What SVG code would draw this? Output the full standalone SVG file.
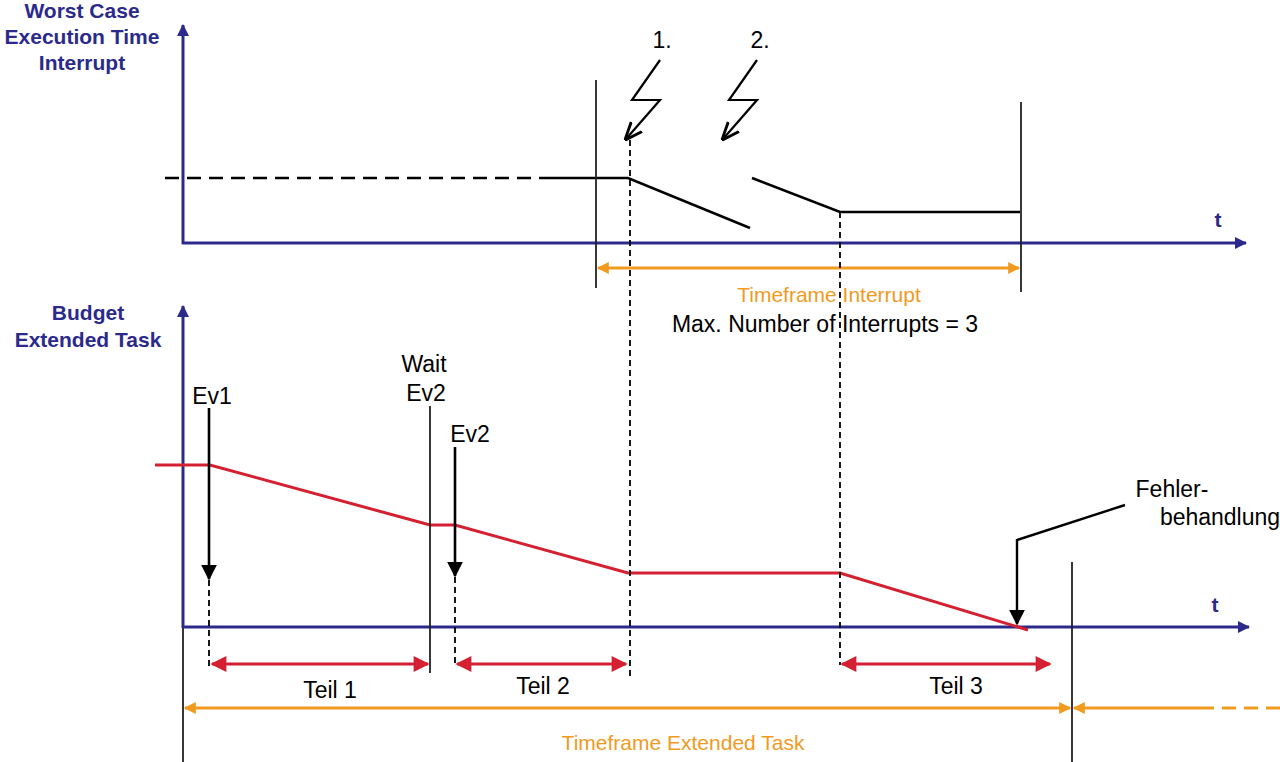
<svg xmlns="http://www.w3.org/2000/svg" width="1280" height="762" viewBox="0 0 1280 762">
<defs>
<marker id="an" markerWidth="12" markerHeight="12" refX="11" refY="6" orient="auto" markerUnits="userSpaceOnUse"><path d="M0,0 L12,6 L0,12 z" fill="#2b2a8c"/></marker>
<marker id="ab" viewBox="0 0 10 10" markerWidth="16" markerHeight="16" refX="9" refY="5" orient="auto" markerUnits="userSpaceOnUse"><path d="M0,0 L10,5 L0,10 z" fill="#000"/></marker>
<marker id="ao" viewBox="0 0 10 10" markerWidth="14" markerHeight="12" refX="9" refY="5" orient="auto-start-reverse" markerUnits="userSpaceOnUse"><path d="M0,0 L10,5 L0,10 z" fill="#f09a1e"/></marker>
<marker id="ar" viewBox="0 0 10 10" markerWidth="18" markerHeight="16" refX="9" refY="5" orient="auto-start-reverse" markerUnits="userSpaceOnUse"><path d="M0,0 L10,5 L0,10 z" fill="#d42030"/></marker>
<marker id="al" viewBox="0 0 10 10" markerWidth="18" markerHeight="18" refX="9" refY="5" orient="auto" markerUnits="userSpaceOnUse"><path d="M0,1 L10,5 L0,9" fill="none" stroke="#000" stroke-width="1.6"/></marker>
</defs>
<style>
.ax{stroke:#2b2a8c;stroke-width:3;fill:none}
.bl{stroke:#000;stroke-width:2.6;fill:none}
.th{stroke:#222;stroke-width:1.8;fill:none}
.da{stroke:#000;stroke-width:1.8;stroke-dasharray:6,4;fill:none}
.rd{stroke:#d42030;stroke-width:3;fill:none}
.or{stroke:#f09a1e;stroke-width:3;fill:none}
.lab{font-family:"Liberation Sans",Arial,sans-serif;font-weight:bold;font-size:21px;fill:#2b2a8c;text-anchor:middle}
.tx{font-family:"Liberation Sans",Arial,sans-serif;font-size:23px;fill:#000;text-anchor:middle}
.ot{font-family:"Liberation Sans",Arial,sans-serif;font-size:21px;fill:#f09a1e;text-anchor:middle}
</style>
<g id="axes-top">
<line class="ax" x1="183" y1="244" x2="183" y2="25" marker-end="url(#an)"/>
<line class="ax" x1="182" y1="243" x2="1246" y2="243" marker-end="url(#an)"/>
<text class="lab" x="82" y="18">Worst Case</text>
<text class="lab" x="82" y="44">Execution Time</text>
<text class="lab" x="82" y="70">Interrupt</text>
<text class="lab" x="1218" y="227">t</text>
</g>
<g id="wcet-curve">
<line class="bl" x1="165" y1="178" x2="545" y2="178" stroke-dasharray="14,8"/>
<polyline class="bl" points="545,178 628,178 750,228"/>
<polyline class="bl" points="752,178 840,212 1020,212"/>
</g>
<g id="interrupt-1">
<polyline points="660,60 632,100 660,100 626,139" fill="none" stroke="#000" stroke-width="2.2" marker-end="url(#al)"/>
<text class="tx" x="662" y="48">1.</text>
</g>
<g id="interrupt-2">
<polyline points="757,60 729,100 757,100 723,139" fill="none" stroke="#000" stroke-width="2.2" marker-end="url(#al)"/>
<text class="tx" x="760" y="48">2.</text>
</g>
<g id="timeframe-interrupt">
<line class="th" x1="596" y1="80" x2="596" y2="288"/>
<line class="th" x1="1021" y1="102" x2="1021" y2="292"/>
<line class="or" x1="598" y1="268" x2="1019" y2="268" marker-start="url(#ao)" marker-end="url(#ao)"/>
<text class="ot" x="829" y="302">Timeframe Interrupt</text>
<text class="tx" x="825" y="332" font-size="21">Max. Number of Interrupts = 3</text>
</g>
<g id="axes-bottom">
<line class="ax" x1="183" y1="628" x2="183" y2="306" marker-end="url(#an)"/>
<line class="ax" x1="182" y1="627" x2="1249" y2="627" marker-end="url(#an)"/>
<line class="th" x1="183" y1="628" x2="183" y2="762"/>
<text class="lab" x="88" y="320">Budget</text>
<text class="lab" x="88" y="347">Extended Task</text>
<text class="lab" x="1215" y="612">t</text>
</g>
<g id="budget-curve">
<polyline class="rd" points="155,465 210,465 430,525 455,525 628,573 840,573 1028,630"/>
</g>
<g id="ev1">
<text class="tx" x="212" y="404">Ev1</text>
<line class="bl" x1="209" y1="408" x2="209" y2="579" marker-end="url(#ab)"/>
<line class="da" x1="209" y1="580" x2="209" y2="668"/>
</g>
<g id="wait-ev2">
<text class="tx" x="424" y="372">Wait</text>
<text class="tx" x="426" y="401">Ev2</text>
<line class="th" x1="430" y1="406" x2="430" y2="673"/>
</g>
<g id="ev2">
<text class="tx" x="470" y="442">Ev2</text>
<line class="bl" x1="455" y1="447" x2="455" y2="576" marker-end="url(#ab)"/>
<line class="da" x1="455" y1="577" x2="455" y2="665"/>
</g>
<g id="connectors">
<line class="da" x1="630" y1="140" x2="630" y2="680"/>
<line class="da" x1="840" y1="212" x2="840" y2="665"/>
<line class="rd" x1="212" y1="664" x2="428" y2="664" marker-start="url(#ar)" marker-end="url(#ar)"/>
<line class="rd" x1="457" y1="664" x2="626" y2="664" marker-start="url(#ar)" marker-end="url(#ar)"/>
<line class="rd" x1="842" y1="664" x2="1050" y2="664" marker-start="url(#ar)" marker-end="url(#ar)"/>
</g>
<text class="tx" x="330" y="698">Teil 1</text>
<text class="tx" x="543" y="694">Teil 2</text>
<text class="tx" x="956" y="694">Teil 3</text>
<g id="timeframe-extended">
<line class="th" x1="1072" y1="562" x2="1072" y2="762"/>
<line class="or" x1="185" y1="708" x2="1070" y2="708" marker-start="url(#ao)" marker-end="url(#ao)"/>
<line class="or" x1="1074" y1="708" x2="1200" y2="708" marker-start="url(#ao)"/>
<line class="or" x1="1200" y1="708" x2="1280" y2="708" stroke-dasharray="14,8"/>
<text class="ot" x="683" y="750">Timeframe Extended Task</text>
</g>
<g id="fehlerbehandlung">
<polyline points="1125,505 1017,540 1017,624" fill="none" stroke="#000" stroke-width="2.4" marker-end="url(#ab)"/>
<text class="tx" x="1172" y="497" font-size="20">Fehler-</text>
<text class="tx" x="1220" y="525" font-size="20">behandlung</text>
</g>
</svg>
